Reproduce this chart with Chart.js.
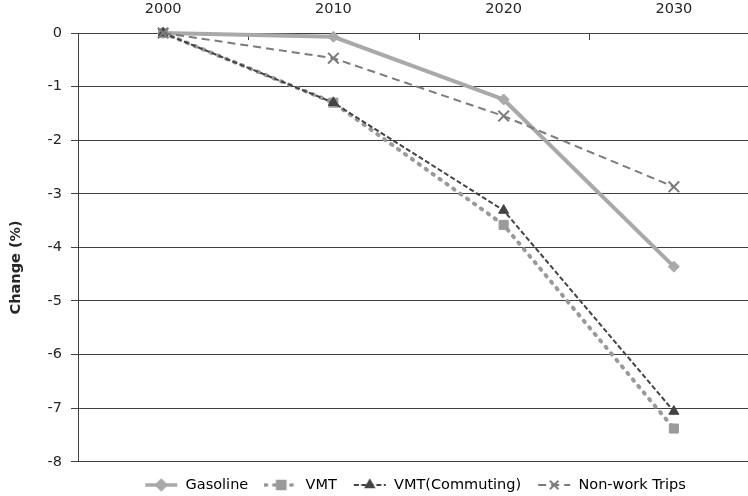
<!DOCTYPE html>
<html>
<head>
<meta charset="utf-8">
<style>
  html, body { margin: 0; padding: 0; background: #ffffff; overflow: hidden; width: 748px; height: 496px; }
  #wrap { width: 830px; height: 496px; }
</style>
<script src="https://cdn.jsdelivr.net/npm/chart.js@4.4.1/dist/chart.umd.min.js"></script>
</head>
<body>
<div id="wrap"><canvas id="chart" width="830" height="496"></canvas></div>
<script>
// Percentage change relative to 2000
const years = ['2000', '2010', '2020', '2030'];
const gasoline = [0, -0.07, -1.24, -4.36];
const vmt = [0, -1.30, -3.58, -7.38];
const vmtCommuting = [0, -1.30, -3.31, -7.06];
const nonWorkTrips = [0, -0.47, -1.55, -2.87];
const seriesNames = ['Gasoline', 'VMT', 'VMT(Commuting)', 'Non-work Trips'];
const yAxisTitle = 'Change (%)';

const FONT = '"DejaVu Sans", Verdana, sans-serif';
const TEXT = '#262626';
const AXIS = '#404040';

const looks = [
  { color: '#a9a9a9', width: 4, dash: [], cap: 'butt', point: 'rectRot', radius: 5.5 },
  { color: '#9a9a9a', width: 4, dash: [1.5, 7], cap: 'round', point: 'rect', radius: 6.4 },
  { color: '#444444', width: 2, dash: [5, 2.5], cap: 'butt', point: 'triangle', radius: 5.8 },
  { color: '#7b7b7b', width: 2, dash: [8, 5], cap: 'butt', point: 'crossRot', radius: 7.5 }
];
const values = [gasoline, vmt, vmtCommuting, nonWorkTrips];

// Small line + marker samples for the legend
function legendSample(s) {
  const c = document.createElement('canvas');
  c.width = 34; c.height = 14;
  const g = c.getContext('2d');
  g.strokeStyle = s.color;
  g.lineWidth = Math.min(s.width, 3.5);
  g.lineCap = s.cap;
  g.setLineDash(s.dash);
  g.beginPath(); g.moveTo(1, 7); g.lineTo(33, 7); g.stroke();
  g.setLineDash([]);
  g.lineCap = 'butt';
  g.fillStyle = s.color;
  g.strokeStyle = s.color;
  const filled = s.point !== 'crossRot';
  Chart.helpers.drawPoint(g, { pointStyle: s.point, radius: s.radius * 0.8, borderWidth: filled ? 1 : 2, rotation: 0 }, 17, 7);
  return c;
}
const samples = looks.map(legendSample);

const datasets = seriesNames.map((name, i) => {
  const s = looks[i];
  const cross = s.point === 'crossRot';
  return {
    label: name,
    data: values[i],
    borderColor: s.color,
    borderWidth: s.width,
    borderDash: s.dash,
    borderCapStyle: s.cap,
    pointStyle: s.point,
    pointRadius: s.radius,
    pointBackgroundColor: s.color,
    pointBorderColor: s.color,
    pointBorderWidth: cross ? 2 : 1,
    tension: 0,
    fill: false,
    clip: false,
    order: seriesNames.length - i
  };
});

const yTitlePlugin = {
  id: 'yTitle',
  afterDraw(chart) {
    const { ctx, chartArea } = chart;
    ctx.save();
    ctx.font = 'bold 14.5px ' + FONT;
    ctx.fillStyle = TEXT;
    ctx.textAlign = 'center';
    ctx.textBaseline = 'middle';
    ctx.translate(16, (chartArea.top + chartArea.bottom) / 2 + 20);
    ctx.rotate(-Math.PI / 2);
    ctx.fillText(yAxisTitle, 0, 0);
    ctx.restore();
  }
};

// Inward tick marks between the year categories on the top axis
const innerTicksPlugin = {
  id: 'innerTicks',
  beforeDatasetsDraw(chart) {
    const x = chart.scales.x;
    const { ctx, chartArea } = chart;
    const half = (x.getPixelForValue(1) - x.getPixelForValue(0)) / 2;
    ctx.save();
    ctx.strokeStyle = AXIS;
    ctx.lineWidth = 1;
    for (let i = 0; i <= years.length; i++) {
      const px = Math.round(x.getPixelForValue(0) - half + i * 2 * half) + 0.5;
      ctx.beginPath();
      ctx.moveTo(px, chartArea.top);
      ctx.lineTo(px, chartArea.top + 7);
      ctx.stroke();
    }
    ctx.restore();
  }
};

Chart.defaults.font.family = FONT;
Chart.defaults.font.size = 14.5;
Chart.defaults.color = TEXT;

new Chart(document.getElementById('chart'), {
  type: 'line',
  data: { labels: years, datasets },
  options: {
    responsive: false,
    animation: false,
    devicePixelRatio: 1,
    layout: { padding: { top: 0, left: 0, right: 0, bottom: -6.25 } },
    plugins: {
      tooltip: { enabled: false },
      legend: {
        position: 'bottom',
        labels: {
          usePointStyle: true,
          pointStyleWidth: 34,
          padding: 16,
          color: TEXT,
          font: { size: 14.5 },
          generateLabels: () => seriesNames.map((name, i) => ({
            text: name,
            pointStyle: samples[i],
            fillStyle: looks[i].color,
            strokeStyle: looks[i].color,
            lineWidth: 0,
            hidden: false,
            datasetIndex: i
          }))
        }
      }
    },
    scales: {
      x: {
        type: 'category',
        position: 'top',
        offset: true,
        grid: { display: false },
        border: { display: true, color: AXIS, width: 1 },
        ticks: { color: TEXT, padding: 7, maxRotation: 0, autoSkip: false },
        afterFit(s) { s.height = 33; }
      },
      y: {
        min: -8,
        max: 0,
        ticks: { stepSize: 1, color: TEXT, padding: 9 },
        grid: { color: AXIS, lineWidth: 1, tickLength: 7, drawTicks: true },
        border: { display: true, color: AXIS, width: 1 },
        afterFit(s) { s.width = 78; }
      },
      y2: {
        type: 'linear',
        position: 'right',
        ticks: { display: false },
        grid: { display: false, drawTicks: false },
        border: { display: false },
        afterFit(s) { s.width = 71; }
      }
    }
  },
  plugins: [yTitlePlugin, innerTicksPlugin]
});
</script>
</body>
</html>
